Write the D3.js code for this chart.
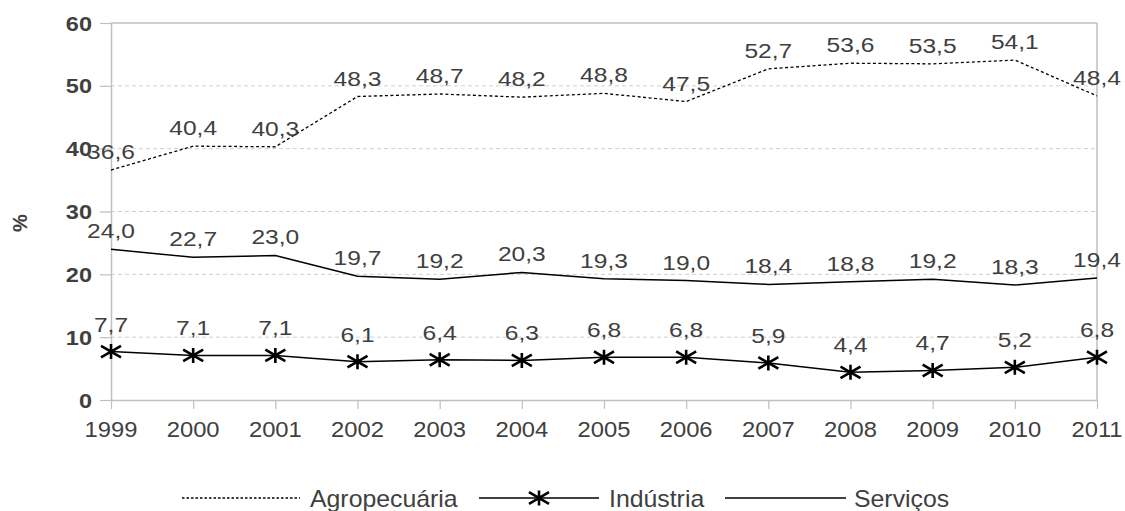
<!DOCTYPE html>
<html>
<head>
<meta charset="utf-8">
<script src="https://cdn.jsdelivr.net/npm/d3@7"></script>
<style>
  html, body { margin: 0; padding: 0; background: #fff; }
  svg { display: block; font-family: "Liberation Sans", Arial, sans-serif; }
</style>
</head>
<body>
<svg id="chart" width="1125" height="511"></svg>
<script>
// Participação por setor (%), 1999–2011
const years = ["1999","2000","2001","2002","2003","2004","2005","2006","2007","2008","2009","2010","2011"];
const agropecuaria = [36.6, 40.4, 40.3, 48.3, 48.7, 48.2, 48.8, 47.5, 52.7, 53.6, 53.5, 54.1, 48.4];
const industria    = [7.7, 7.1, 7.1, 6.1, 6.4, 6.3, 6.8, 6.8, 5.9, 4.4, 4.7, 5.2, 6.8];
const servicos     = [24.0, 22.7, 23.0, 19.7, 19.2, 20.3, 19.3, 19.0, 18.4, 18.8, 19.2, 18.3, 19.4];
const yTicks = [0, 10, 20, 30, 40, 50, 60];
const seriesNames = ["Agropecuária", "Indústria", "Serviços"];

const svg = d3.select("#chart");
const textColor = "#404040";
const axisColor = "#bfbfbf";

const x = d3.scalePoint().domain(years).range([111, 1097]);
const y = d3.scaleLinear().domain([0, 60]).range([400, 23]);

const fmt = v => v.toFixed(1).replace(".", ",");

// horizontally widened text, like the original rendering
function stretchedText(g, tx, ty, str, opts) {
  return g.append("text")
    .attr("transform", `translate(${tx},${ty}) scale(${opts.sx || 1},1)`)
    .attr("text-anchor", opts.anchor || "middle")
    .attr("fill", opts.fill || textColor)
    .attr("font-size", opts.size)
    .attr("font-weight", opts.weight || "normal")
    .text(str);
}

// grid lines
svg.append("g").selectAll("line")
  .data(yTicks.filter(d => d > 0 && d < 60))
  .join("line")
  .attr("x1", x.range()[0]).attr("x2", x.range()[1])
  .attr("y1", d => y(d)).attr("y2", d => y(d))
  .attr("stroke", "#cfcfcf").attr("stroke-width", 1)
  .attr("stroke-dasharray", "4,3");

// frame: top and right borders
svg.append("line")
  .attr("x1", x.range()[0]).attr("x2", x.range()[1])
  .attr("y1", y(60)).attr("y2", y(60))
  .attr("stroke", axisColor).attr("stroke-width", 1.5);
svg.append("line")
  .attr("x1", x.range()[1]).attr("x2", x.range()[1])
  .attr("y1", y(60)).attr("y2", y(0))
  .attr("stroke", axisColor).attr("stroke-width", 1.5);

// x axis
const xAxis = svg.append("g")
  .attr("transform", `translate(0,${y(0)})`)
  .call(d3.axisBottom(x).tickSize(9).tickSizeOuter(0).tickFormat(""));
xAxis.select(".domain").attr("stroke", axisColor).attr("stroke-width", 1.5);
xAxis.selectAll(".tick line").attr("stroke", axisColor).attr("stroke-width", 1.2);
years.forEach(yr => stretchedText(svg, x(yr), 437, yr, { size: 22, sx: 1.08 }));

// y axis
const yAxis = svg.append("g")
  .attr("transform", `translate(${x.range()[0]},0)`)
  .call(d3.axisLeft(y).tickValues(yTicks).tickSize(11).tickSizeOuter(0).tickFormat(""));
yAxis.select(".domain").attr("stroke", axisColor).attr("stroke-width", 1.5);
yAxis.selectAll(".tick line").attr("stroke", axisColor).attr("stroke-width", 1.2);
yTicks.forEach(v => stretchedText(svg, 92, y(v) + 7.5, String(v), { size: 21, sx: 1.12, anchor: "end", weight: "bold" }));

// axis title
svg.append("text")
  .attr("transform", "translate(27,223) rotate(-90)")
  .attr("text-anchor", "middle")
  .attr("fill", textColor)
  .attr("font-size", 20)
  .attr("font-weight", "bold")
  .text("%");

// lines
const lineGen = vals => d3.line()
  .x((d, i) => x(years[i]))
  .y(d => y(d))
  .curve(d3.curveLinear)(vals);

svg.append("path").attr("d", lineGen(agropecuaria))
  .attr("fill", "none").attr("stroke", "#000").attr("stroke-width", 1.3)
  .attr("stroke-dasharray", "3,2.5");
svg.append("path").attr("d", lineGen(servicos))
  .attr("fill", "none").attr("stroke", "#000").attr("stroke-width", 1.5);
svg.append("path").attr("d", lineGen(industria))
  .attr("fill", "none").attr("stroke", "#000").attr("stroke-width", 1.5);

// asterisk marker
const starPath = "M0,-7.5V7.5M-10,-5.8L10,5.8M-10,5.8L10,-5.8";
svg.append("g").selectAll("path")
  .data(industria)
  .join("path")
  .attr("transform", (d, i) => `translate(${x(years[i])},${y(d)})`)
  .attr("d", starPath)
  .attr("fill", "none").attr("stroke", "#000").attr("stroke-width", 2.6);

// value labels
const labels = svg.append("g");
agropecuaria.forEach((v, i) => stretchedText(labels, x(years[i]), y(v) - 11, fmt(v), { size: 21, sx: 1.17 }));
servicos.forEach((v, i) => stretchedText(labels, x(years[i]), y(v) - 11, fmt(v), { size: 21, sx: 1.17 }));
industria.forEach((v, i) => stretchedText(labels, x(years[i]), y(v) - 20, fmt(v), { size: 21, sx: 1.17 }));

// legend
const lg = svg.append("g");
const ly = 498;
lg.append("line").attr("x1", 182).attr("x2", 300).attr("y1", ly).attr("y2", ly)
  .attr("stroke", "#000").attr("stroke-width", 1.3).attr("stroke-dasharray", "2.5,2");
stretchedText(lg, 310, 507, seriesNames[0], { size: 23, sx: 1.08, anchor: "start" });
lg.append("line").attr("x1", 479).attr("x2", 599).attr("y1", ly).attr("y2", ly)
  .attr("stroke", "#000").attr("stroke-width", 1.5);
lg.append("path").attr("transform", `translate(539,${ly})`).attr("d", starPath)
  .attr("fill", "none").attr("stroke", "#000").attr("stroke-width", 2.6);
stretchedText(lg, 609, 507, seriesNames[1], { size: 23, sx: 1.08, anchor: "start" });
lg.append("line").attr("x1", 725).attr("x2", 846).attr("y1", ly).attr("y2", ly)
  .attr("stroke", "#000").attr("stroke-width", 1.5);
stretchedText(lg, 854, 507, seriesNames[2], { size: 23, sx: 1.08, anchor: "start" });
</script>
</body>
</html>
